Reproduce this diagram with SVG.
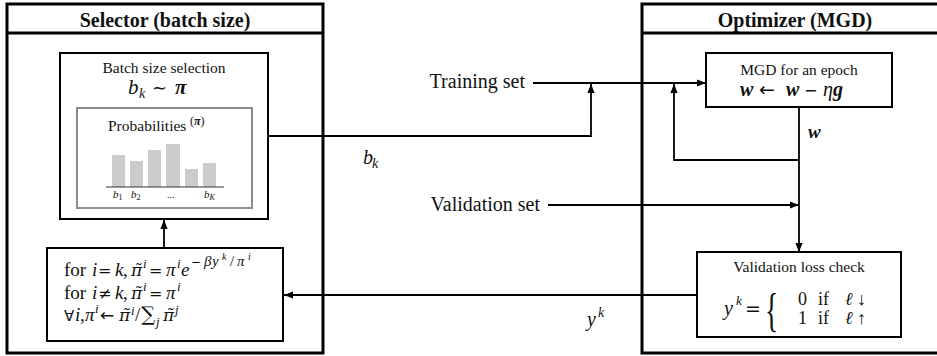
<svg xmlns="http://www.w3.org/2000/svg" width="937" height="356" viewBox="0 0 937 356">
<style>
text{font-family:"Liberation Serif","Times New Roman",serif;fill:#111}
.hdr{font-size:20px;font-weight:bold;text-anchor:middle}
.lbl{font-size:15.5px;text-anchor:middle}
.m{font-style:italic}
.b{font-weight:bold}
.op{font-family:"DejaVu Sans",sans-serif;font-style:normal}
.f{font-size:19px}
.sup{font-size:13px;font-style:italic}
.ex{font-size:15px}
.pt{font-family:"DejaVu Serif",serif;font-style:italic;font-size:17px}
.outer{fill:none;stroke:#000;stroke-width:3}
.box{fill:#fff;stroke:#000;stroke-width:2}
.gbox{fill:#fff;stroke:#8c8c8c;stroke-width:2}
.bar{fill:#cccccc}
.conn{fill:none;stroke:#000;stroke-width:1.8}
</style>
<defs>
<marker id="ah" viewBox="0 0 10 10" refX="10" refY="5" markerWidth="9" markerHeight="9" markerUnits="userSpaceOnUse" orient="auto">
<path d="M0,1 L10,5 L0,9 Z" fill="#000"/>
</marker>
</defs>

<g id="selector">
<rect class="outer" x="7" y="4" width="316" height="349"/>
<line class="outer" x1="7" y1="33" x2="323" y2="33"/>
<text class="hdr" x="165" y="27">Selector (batch size)</text>
</g>

<g id="optimizer">
<rect class="outer" x="642" y="4" width="310" height="349"/>
<line class="outer" x1="642" y1="33" x2="940" y2="33"/>
<text class="hdr" x="795" y="27">Optimizer (MGD)</text>
</g>

<g id="connectors">
<line class="conn" x1="164" y1="248" x2="164" y2="220" marker-end="url(#ah)"/>
<path class="conn" d="M268,136 H591 V84" marker-end="url(#ah)"/>
<path class="conn" d="M533,83 H706" marker-end="url(#ah)"/>
<path class="conn" d="M799,160 H674 V84" marker-end="url(#ah)"/>
<path class="conn" d="M799,107 V252" marker-end="url(#ah)"/>
<path class="conn" d="M548,205 H799" marker-end="url(#ah)"/>
<path class="conn" d="M697,295 H284" marker-end="url(#ah)"/>
</g>

<g id="batch-selection">
<rect class="box" x="60" y="53" width="208" height="166"/>
<text class="lbl" x="164" y="73">Batch size selection</text>
<text y="94" font-size="21"><tspan x="128" class="m">b</tspan><tspan x="139" y="98" font-size="14" class="m">k</tspan><tspan x="152" y="94" font-size="18" class="op">∼</tspan><tspan x="175" class="m b">π</tspan></text>
</g>

<g id="probabilities">
<rect class="gbox" x="77" y="108" width="175" height="100"/>
<text x="108" y="131" font-size="15.5">Probabilities</text>
<text x="190" y="125" font-size="12">(<tspan class="m b">π</tspan>)</text>
<rect class="bar" x="112" y="155" width="13" height="32"/>
<rect class="bar" x="130" y="161" width="13" height="26"/>
<rect class="bar" x="148" y="150" width="13" height="37"/>
<rect class="bar" x="166" y="144" width="14" height="43"/>
<rect class="bar" x="185" y="169" width="13" height="18"/>
<rect class="bar" x="203" y="163" width="13" height="24"/>
<line x1="106" y1="187" x2="224" y2="187" stroke="#333" stroke-width="1"/>
<text x="113" y="198" font-size="11"><tspan class="m">b</tspan><tspan font-size="8" dy="2">1</tspan></text>
<text x="131" y="198" font-size="11"><tspan class="m">b</tspan><tspan font-size="8" dy="2">2</tspan></text>
<text x="167" y="198" font-size="10">...</text>
<text x="204" y="198" font-size="11"><tspan class="m">b</tspan><tspan class="m" font-size="8" dy="2">K</tspan></text>
</g>

<g id="update">
<rect class="box" x="47" y="248" width="236" height="93"/>
<text class="f" y="276"><tspan x="64">for</tspan><tspan x="92" class="m">i</tspan><tspan x="98" class="op" font-size="16">=</tspan><tspan x="115" class="m">k</tspan><tspan x="123">,</tspan><tspan x="131" class="pt">π̃</tspan><tspan x="143" y="268" class="sup">i</tspan><tspan x="149" y="276" class="op" font-size="16">=</tspan><tspan x="166" class="m">π</tspan><tspan x="177" y="268" class="sup">i</tspan><tspan x="181" y="276" class="m">e</tspan><tspan x="191" y="266" class="op" font-size="12">−</tspan><tspan x="204" class="ex m">β</tspan><tspan x="212" class="ex m">y</tspan><tspan x="222" y="260" class="m" font-size="10">k</tspan><tspan x="230" y="266" class="ex">/</tspan><tspan x="237" class="ex m">π</tspan><tspan x="248" y="260" class="m" font-size="10">i</tspan></text>
<text class="f" y="299"><tspan x="64">for</tspan><tspan x="92" class="m">i</tspan><tspan x="98" class="op" font-size="16">≠</tspan><tspan x="115" class="m">k</tspan><tspan x="123">,</tspan><tspan x="131" class="pt">π̃</tspan><tspan x="143" y="291" class="sup">i</tspan><tspan x="149" y="299" class="op" font-size="16">=</tspan><tspan x="166" class="m">π</tspan><tspan x="177" y="291" class="sup">i</tspan></text>
<text class="f" y="321"><tspan x="64" class="op" font-size="15">∀</tspan><tspan x="75" class="m">i</tspan><tspan x="80">,</tspan><tspan x="85" class="m">π</tspan><tspan x="95" y="313" class="sup">i</tspan><tspan x="100" y="321" class="op" font-size="17">←</tspan><tspan x="119" class="pt">π̃</tspan><tspan x="131" y="315" class="sup" font-size="12">i</tspan><tspan x="135" y="321">/</tspan><tspan x="141" font-size="20" style="font-family:'DejaVu Serif',serif">∑</tspan><tspan x="156" y="326" class="sup">j</tspan><tspan x="163" y="321" class="pt">π̃</tspan><tspan x="175" y="314" class="sup" font-size="12">j</tspan></text>
</g>

<g id="mgd">
<rect class="box" x="706" y="53" width="186" height="54"/>
<text class="lbl" x="799" y="75">MGD for an epoch</text>
<text y="96" font-size="20"><tspan x="740" class="m b">w</tspan><tspan x="759" font-size="19" class="op">←</tspan><tspan x="786" class="m b">w</tspan><tspan x="804" font-size="16" class="op">−</tspan><tspan x="823" class="m">η</tspan><tspan x="833" class="m b">g</tspan></text>
</g>

<g id="validation-check">
<rect class="box" x="697" y="252" width="204" height="85"/>
<text class="lbl" x="799" y="272">Validation loss check</text>
<text y="315" font-size="20"><tspan x="724" class="m">y</tspan><tspan x="736" y="305" font-size="13" class="m">k</tspan><tspan x="745" y="315" font-size="19" class="op">=</tspan></text>
<text x="0" y="0" font-size="46" transform="translate(765,326) scale(0.6,1)">{</text>
<text y="305" font-size="18"><tspan x="798">0</tspan><tspan x="818">if</tspan><tspan x="845" class="m">ℓ</tspan><tspan x="857">↓</tspan></text>
<text y="324" font-size="18"><tspan x="798">1</tspan><tspan x="818">if</tspan><tspan x="845" class="m">ℓ</tspan><tspan x="857">↑</tspan></text>
</g>

<g id="labels">
<text x="525" y="88" font-size="20" text-anchor="end">Training set</text>
<text x="540" y="211" font-size="20" text-anchor="end">Validation set</text>
<text y="164" font-size="20"><tspan x="363" class="m">b</tspan><tspan x="372" y="168" font-size="14" class="m">k</tspan></text>
<text y="326" font-size="20"><tspan x="587" class="m">y</tspan><tspan x="598" y="317" font-size="14" class="m">k</tspan></text>
<text x="808" y="138" font-size="19" class="m b">w</text>
</g>
</svg>
